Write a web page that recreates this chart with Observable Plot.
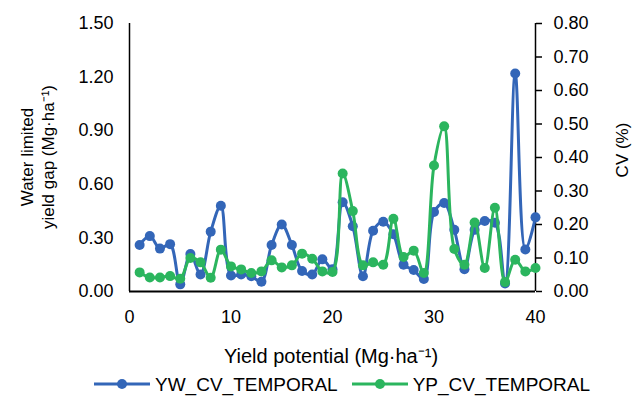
<!DOCTYPE html>
<html><head><meta charset="utf-8">
<script src="https://cdn.jsdelivr.net/npm/d3@7"></script>
<script src="https://cdn.jsdelivr.net/npm/@observablehq/plot@0.6"></script>
<style>
body{margin:0;background:#fff;font-family:Arial,"Liberation Sans",sans-serif;}
#chart{width:640px;height:397px;position:relative;overflow:hidden;background:#fff}
.legend{display:flex;align-items:center;height:26px;margin-top:3px;padding-left:94px;font-size:19px;line-height:1;color:#000}
.item{display:flex;align-items:center;margin-right:14px}
.item svg{margin-right:5px}
</style></head><body><div id="chart"></div>
<script>
const yieldPotential = [1,2,3,4,5,6,7,8,9,10,11,12,13,14,15,16,17,18,19,20,21,22,23,24,25,26,27,28,29,30,31,32,33,34,35,36,37,38,39,40];
const ywCvTemporal = [0.26,0.31,0.24,0.265,0.04,0.21,0.095,0.335,0.48,0.09,0.095,0.085,0.055,0.26,0.375,0.26,0.115,0.095,0.18,0.125,0.50,0.365,0.085,0.34,0.39,0.32,0.15,0.12,0.07,0.445,0.495,0.345,0.125,0.345,0.395,0.385,0.045,1.22,0.235,0.415];
const ypCvTemporal = [0.057,0.042,0.042,0.046,0.038,0.10,0.087,0.041,0.125,0.075,0.066,0.055,0.06,0.093,0.072,0.078,0.113,0.098,0.06,0.058,0.352,0.24,0.078,0.087,0.08,0.217,0.103,0.122,0.055,0.376,0.493,0.127,0.08,0.206,0.07,0.25,0.028,0.095,0.06,0.07];
const xTicks = [0,10,20,30,40];
const leftTicks = [0,0.3,0.6,0.9,1.2,1.5];
const rightTicks = [0,0.1,0.2,0.3,0.4,0.5,0.6,0.7,0.8];
const seriesNames = ["YW_CV_TEMPORAL","YP_CV_TEMPORAL"];
const seriesColors = ["#3366B8","#2BB55E"];
const xLabel = "Yield potential (Mg·ha⁻¹)";
const yLeftLabel = ["Water limited","yield gap (Mg·ha⁻¹)"];
const yRightLabel = "CV (%)";
const leftMax = 1.5, rightMax = 0.8;
const k = leftMax/rightMax;
const rows = yieldPotential.map((x,i)=>({x, yw: ywCvTemporal[i], yp: ypCvTemporal[i]}));

const font = 'Arial,"Liberation Sans",sans-serif';
const plot = Plot.plot({
  width:640, height:368, marginTop:23, marginBottom:77, marginLeft:129, marginRight:105,
  style:{fontFamily:font, fontSize:"18px", color:"#000", background:"#fff", overflow:"visible"},
  x:{domain:[0,40]}, y:{domain:[0,leftMax]},
  marks:[
    Plot.axisX(xTicks,{tickSize:0,tickPadding:19,tickFormat:d=>String(d),label:null,fontSize:18}),
    Plot.axisY(leftTicks,{tickSize:0,tickPadding:16,tickFormat:d=>d.toFixed(2),label:null,fontSize:18}),
    Plot.axisY(rightTicks.map(v=>v*k),{anchor:"right",tickSize:6,tickPadding:12,tickFormat:d=>(d/k).toFixed(2),label:null,fontSize:18,strokeWidth:1.5}),
    Plot.ruleX([0,40],{stroke:"#000",strokeWidth:1.5}),
    Plot.ruleY([0],{stroke:"#000",strokeWidth:2}),
    Plot.line(rows,{x:"x",y:"yw",stroke:seriesColors[0],strokeWidth:3,curve:"catmull-rom"}),
    Plot.dot(rows,{x:"x",y:"yw",r:5,fill:seriesColors[0]}),
    Plot.line(rows,{x:"x",y:d=>d.yp*k,stroke:seriesColors[1],strokeWidth:3,curve:"catmull-rom"}),
    Plot.dot(rows,{x:"x",y:d=>d.yp*k,r:5,fill:seriesColors[1]})
  ]
});
const svg = d3.select(plot);
svg.append("text").attr("x",331).attr("y",356).attr("text-anchor","middle").attr("dominant-baseline","central")
  .style("font-size","20px").text(xLabel);
yLeftLabel.forEach((t,i)=>{
  svg.append("text").attr("transform",`translate(${27+i*21},157) rotate(-90)`).attr("text-anchor","middle")
    .attr("dominant-baseline","central").style("font-size","17px").text(t);
});
svg.append("text").attr("transform","translate(622,150) rotate(-90)").attr("text-anchor","middle")
  .attr("dominant-baseline","central").style("font-size","17px").text(yRightLabel);

const chart = document.getElementById("chart");
chart.appendChild(plot);
const legend = document.createElement("div");
legend.className = "legend";
seriesNames.forEach((name,i)=>{
  const item = document.createElement("div");
  item.className="item";
  item.innerHTML = `<svg width="56" height="12"><line x1="0" y1="6" x2="56" y2="6" stroke="${seriesColors[i]}" stroke-width="3"/><circle cx="28" cy="6" r="5" fill="${seriesColors[i]}"/></svg><span>${name}</span>`;
  legend.appendChild(item);
});
chart.appendChild(legend);
</script></body></html>
